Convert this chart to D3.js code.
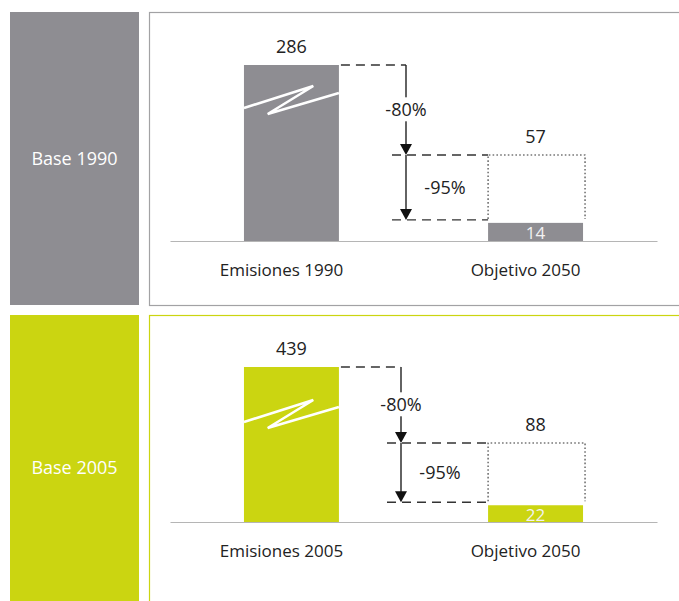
<!DOCTYPE html>
<html>
<head>
<meta charset="utf-8">
<script src="https://cdn.jsdelivr.net/npm/d3@7/dist/d3.min.js"></script>
<style>
  body { margin: 0; background: #fff; }
  svg { display: block; font-family: "Open Sans", "Noto Sans", sans-serif; }
</style>
</head>
<body>
<svg id="chart" width="679" height="601"></svg>
<script>
"use strict";

var baseLabels = ['Base 1990', 'Base 2005'];
var emisionesLabels = ['Emisiones 1990', 'Emisiones 2005'];
var objetivoLabel = 'Objetivo 2050';
var baseValues = [286, 439];
var target80 = [57, 88];
var target95 = [14, 22];
var cutLabels = ['-80%', '-95%'];

// panel geometry (pixels)
var layout = [
  { y0: 12, y1: 305, base: 241, mid: 155, top: 65, colour: '#8e8d92', border: '#a2a2a4', arrowX: 406, breakDy: 43 },
  { y0: 315, y1: 620, base: 522, mid: 443, top: 367, colour: '#cbd511', border: '#cbd511', arrowX: 401, breakDy: 55 }
];

var svg = d3.select('#chart');
var ink = '#222';

function make_panel(i) {
  var L = layout[i];
  var g = svg.append('g');
  var cats = [emisionesLabels[i], objetivoLabel];

  // side label box
  g.append('rect')
    .attr('x', 10).attr('y', L.y0)
    .attr('width', 129).attr('height', L.y1 - L.y0)
    .attr('fill', L.colour);
  g.append('text')
    .attr('x', 74.5).attr('y', (L.y0 + L.y1) / 2)
    .attr('dy', '0.35em')
    .attr('text-anchor', 'middle')
    .attr('fill', '#fff')
    .style('font-size', '18px')
    .style('font-weight', 500)
    .text(baseLabels[i]);

  // frame
  g.append('rect')
    .attr('x', 149.5).attr('y', L.y0 + 0.5)
    .attr('width', 600).attr('height', L.y1 - L.y0)
    .attr('fill', 'none')
    .attr('stroke', L.border)
    .attr('stroke-width', 1.2);

  var x = d3.scaleBand().domain(cats).range([170, 657])
    .paddingInner(0.611).paddingOuter(0.303);
  // broken scale: lower part stretched, big bar cut
  var y = d3.scaleLinear()
    .domain([0, target80[i], baseValues[i]])
    .range([L.base, L.mid, L.top]);

  var bw = x.bandwidth();
  var x1 = x(cats[0]), x2 = x(cats[1]);

  // bars
  g.append('rect')
    .attr('x', x1).attr('y', y(baseValues[i]))
    .attr('width', bw).attr('height', L.base - y(baseValues[i]))
    .attr('fill', L.colour);
  g.append('rect')
    .attr('x', x2).attr('y', y(target95[i]) + 3)
    .attr('width', bw).attr('height', L.base - y(target95[i]) - 3)
    .attr('fill', L.colour);

  // zigzag break
  var zt = y(baseValues[i]) + L.breakDy;
  var zz = [[0, 0], [0.73, -22], [0.25, 6], [1, -15]];
  g.append('path')
    .attr('d', d3.line()(zz.map(function (p) { return [x1 + p[0] * bw, zt + p[1]]; })))
    .attr('fill', 'none')
    .attr('stroke', '#fff')
    .attr('stroke-width', 2.6)
    .attr('stroke-linejoin', 'miter');

  // value labels
  g.append('text')
    .attr('x', x1 + bw / 2).attr('y', y(baseValues[i]) - 18)
    .attr('dy', '0.35em').attr('text-anchor', 'middle')
    .attr('fill', ink).style('font-size', '18px')
    .text(baseValues[i]);
  g.append('text')
    .attr('x', x2 + bw / 2).attr('y', y(target80[i]) - 18)
    .attr('dy', '0.35em').attr('text-anchor', 'middle')
    .attr('fill', ink).style('font-size', '18px')
    .text(target80[i]);
  g.append('text')
    .attr('x', x2 + bw / 2).attr('y', (L.base + y(target95[i]) + 3) / 2 + 1)
    .attr('dy', '0.35em').attr('text-anchor', 'middle')
    .attr('fill', '#f2f2f2').style('font-size', '17px')
    .text(target95[i]);

  // dotted target box (no bottom)
  var bx2 = x2 + bw + 2;
  g.append('path')
    .attr('d', 'M' + x2 + ',' + (y(target95[i]) - 1) + 'V' + y(target80[i]) +
      'H' + bx2 + 'V' + (y(target95[i]) - 1))
    .attr('fill', 'none')
    .attr('stroke', '#333')
    .attr('stroke-width', 1.1)
    .attr('stroke-dasharray', '1.6,2.2');

  // dashed guides
  var ax = L.arrowX;
  var dash = function (xa, xb, yy) {
    g.append('line')
      .attr('x1', xa).attr('x2', xb).attr('y1', yy).attr('y2', yy)
      .attr('stroke', '#333')
      .attr('stroke-width', 1.3)
      .attr('stroke-dasharray', '9,6');
  };
  dash(x1 + bw + 2, ax, y(baseValues[i]));
  dash(ax - 14, x2, y(target80[i]));
  dash(ax - 14, x2, y(target95[i]));

  // arrows
  var arrow = function (ya, yb, label, lx) {
    g.append('line')
      .attr('x1', ax).attr('x2', ax).attr('y1', ya).attr('y2', yb - 8)
      .attr('stroke', '#222').attr('stroke-width', 1.4);
    g.append('path')
      .attr('d', 'M' + (ax - 6) + ',' + (yb - 11) + 'L' + (ax + 6) + ',' + (yb - 11) + 'L' + ax + ',' + yb + 'Z')
      .attr('fill', '#111');
    var t = g.append('text')
      .attr('x', lx).attr('y', (ya + yb) / 2)
      .attr('dy', '0.35em').attr('text-anchor', 'middle')
      .attr('fill', ink).style('font-size', '18px')
      .text(label);
    return t;
  };
  var t80 = arrow(y(baseValues[i]), y(target80[i]), cutLabels[0], ax);
  var bb = t80.node().getBBox();
  g.insert('rect', function () { return t80.node(); })
    .attr('x', bb.x - 2).attr('y', bb.y)
    .attr('width', bb.width + 4).attr('height', bb.height)
    .attr('fill', '#fff');
  arrow(y(target80[i]), y(target95[i]), cutLabels[1], ax + 39);

  // baseline + category labels
  var axis = g.append('g')
    .attr('transform', 'translate(0,' + L.base + ')')
    .call(d3.axisBottom(x).tickSize(0).tickSizeOuter(0).tickPadding(23));
  axis.select('.domain').attr('stroke', '#b5b5b5').attr('stroke-width', 1.2);
  axis.selectAll('text')
    .attr('dx', -10)
    .attr('fill', ink)
    .style('font-size', '17px')
    .style('font-family', '"Open Sans", "Noto Sans", sans-serif');
}

make_panel(0);
make_panel(1);
</script>
</body>
</html>
